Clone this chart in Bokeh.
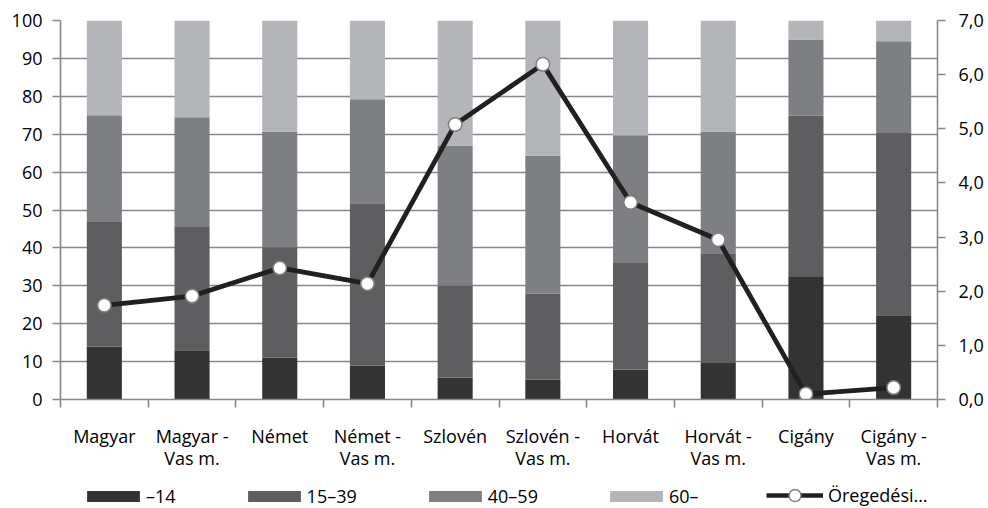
from bokeh.plotting import figure
from bokeh.models import (Range1d, LinearAxis, FixedTicker, CustomJSTickFormatter,
                          Legend, LegendItem, ColumnDataSource)
from bokeh.layouts import column
from bokeh.embed import file_html
from bokeh.resources import INLINE

# ---- data ----
categories = ["Magyar", "Magyar - Vas m.", "Német", "Német - Vas m.", "Szlovén",
              "Szlovén - Vas m.", "Horvát", "Horvát - Vas m.", "Cigány", "Cigány - Vas m."]
age_0_14 = [14.0, 13.0, 11.1, 9.0, 5.8, 5.3, 7.9, 9.6, 32.3, 22.2]
age_15_39 = [33.0, 32.5, 29.1, 42.8, 24.3, 22.7, 28.1, 29.0, 42.6, 48.1]
age_40_59 = [28.0, 29.0, 30.5, 27.4, 36.9, 36.4, 33.7, 32.1, 20.1, 24.2]
age_60 = [25.0, 25.5, 29.3, 20.8, 33.0, 35.6, 30.3, 29.3, 5.0, 5.5]
aging_index = [1.74, 1.91, 2.43, 2.14, 5.08, 6.19, 3.64, 2.95, 0.10, 0.22]
series_names = ["\u201314", "15\u201339", "40\u201359", "60\u2013"]
line_name = "\u00d6reged\u00e9si\u2026"
left_ticks = list(range(0, 101, 10))
right_ticks = list(range(0, 8))

colors = ["#333333", "#5e5e60", "#7e7f83", "#b4b5b9"]
grid_col = "#878787"
line_col = "#231f20"
FONT = "Open Sans"
FS = "18px"

n = len(categories)
xpos = [i + 0.5 for i in range(n)]
xlabels = [c.replace(" - ", " -\n") for c in categories]

src = ColumnDataSource(dict(x=xpos, a=age_0_14, b=age_15_39, c=age_40_59, d=age_60,
                            idx=aging_index))

p = figure(width=988, height=478, output_backend="svg", toolbar_location=None,
           x_range=Range1d(0, n), y_range=Range1d(0, 100),
           min_border_left=60, min_border_right=51, min_border_top=20, min_border_bottom=79,
           x_axis_location=None, y_axis_location=None)
p.outline_line_color = None
p.background_fill_color = "white"
p.border_fill_color = "white"
p.extra_y_ranges = {"right": Range1d(0, 7)}


def style_axis(ax, standoff):
    ax.major_tick_out = 8
    ax.major_tick_in = 0
    ax.minor_tick_out = 0
    ax.minor_tick_in = 0
    ax.axis_line_color = grid_col
    ax.axis_line_width = 1.6
    ax.major_tick_line_color = grid_col
    ax.major_tick_line_width = 1.6
    ax.major_label_standoff = standoff
    ax.major_label_text_font = FONT
    ax.major_label_text_font_size = FS
    ax.major_label_text_color = "black"


yax = LinearAxis(ticker=FixedTicker(ticks=left_ticks))
style_axis(yax, 10)
p.add_layout(yax, "left")

rax = LinearAxis(y_range_name="right", ticker=FixedTicker(ticks=right_ticks),
                 formatter=CustomJSTickFormatter(code="return tick.toFixed(1).replace('.', ',')"))
style_axis(rax, 13)
p.add_layout(rax, "right")

xax = LinearAxis(ticker=FixedTicker(ticks=xpos, minor_ticks=list(range(0, n + 1))),
                 formatter=CustomJSTickFormatter(args=dict(labels=xlabels),
                                                 code="return labels[Math.floor(tick)]"))
style_axis(xax, 16)
xax.major_tick_out = 0
xax.minor_tick_out = 8
xax.minor_tick_line_color = grid_col
xax.minor_tick_line_width = 1.6
xax.major_label_text_line_height = 0.95
p.add_layout(xax, "below")

p.ygrid.ticker = FixedTicker(ticks=left_ticks)
p.ygrid.grid_line_color = grid_col
p.ygrid.grid_line_width = 1.6
p.xgrid.grid_line_color = None

# bars
bars = p.vbar_stack(["a", "b", "c", "d"], x="x", width=0.4, color=colors,
                    line_color=None, source=src)

# line
ln = p.line("x", "idx", source=src, y_range_name="right", line_width=4.8,
            line_color=line_col)
mk = p.scatter("x", "idx", source=src, y_range_name="right", size=13.5,
               fill_color="white", line_color="#7f7f7f", line_width=1.5)

# ---- legend strip below the chart (same series, drawn out of view; only the legends show) ----
lf = figure(width=988, height=30, output_backend="svg", toolbar_location=None,
            x_range=Range1d(0, n), y_range=Range1d(1000, 1001),
            min_border_left=60, min_border_right=51, min_border_top=0, min_border_bottom=0,
            x_axis_location=None, y_axis_location=None)
lf.outline_line_color = None
lf.grid.grid_line_color = None
lbars = lf.vbar_stack(["a", "b", "c", "d"], x="x", width=0.4, color=colors,
                      line_color=None, source=src)
items = [LegendItem(label=name, renderers=[r]) for r, name in zip(lbars, series_names)]
lg = Legend(items=items, orientation="horizontal", location=(20, 0),
            glyph_width=66, glyph_height=14, label_standoff=0, spacing=65,
            padding=0, margin=0,
            border_line_color=None, background_fill_alpha=0,
            label_text_font=FONT, label_text_font_size=FS, label_text_color="black")
lf.add_layout(lg, "center")

l2 = lf.line("x", "idx", source=src, line_width=4.5, line_color=line_col)
m2 = lf.scatter("x", "idx", source=src, size=13.5, fill_color="white",
                line_color="#7f7f7f", line_width=1.5)
lg2 = Legend(items=[LegendItem(label=line_name, renderers=[l2, m2])],
             orientation="horizontal", location=(706, -2),
             glyph_width=57, glyph_height=30, label_standoff=5,
             padding=0, margin=0,
             border_line_color=None, background_fill_alpha=0,
             label_text_font=FONT, label_text_font_size=FS, label_text_color="black")
lf.add_layout(lg2, "center")

open("out.html", "w").write(file_html(column(p, lf), INLINE))
